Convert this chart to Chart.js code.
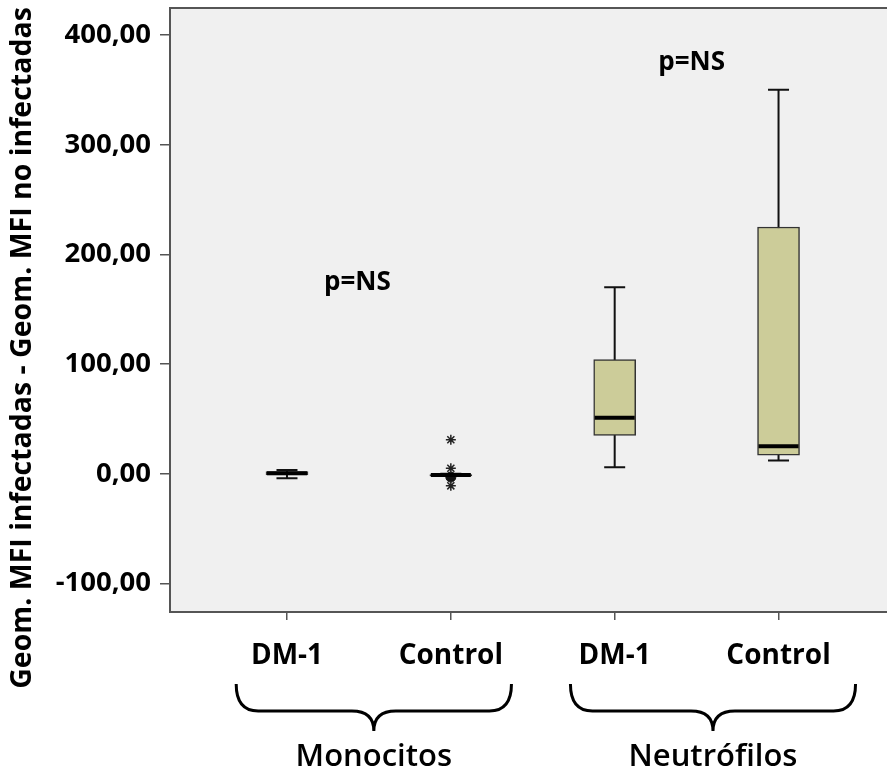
<!DOCTYPE html>
<html>
<head>
<meta charset="utf-8">
<script src="https://cdn.jsdelivr.net/npm/chart.js@4"></script>
<style>
  body { margin: 0; background: #fff; }
  canvas { display: block; }
</style>
</head>
<body>
<canvas id="boxChart" width="887" height="773"></canvas>
<script>
// categories along the x axis (position 1..4)
const categories = ["DM-1", "Control", "DM-1", "Control"];
const catPositions = [1, 2, 3, 4];

// box statistics per category
const whiskerLow = [-4, -1, 6, 12];
const q1 = [-1, -2, 35, 17];
const median = [0.5, -1, 51, 25];
const q3 = [2, 0, 104, 225];
const whiskerHigh = [3.5, 0, 170, 350];

// extreme values shown as stars / circles (Monocitos Control)
const starX = [2, 2, 2];
const starY = [31, 5, -11];
const circleX = [2];
const circleY = [-3];

const yTicks = [-100, 0, 100, 200, 300, 400];

// group braces under the axis
const groupNames = ["Monocitos", "Neutrófilos"];
const groupCenters = [1.53, 3.6];
const groupHalfWidths = [0.84, 0.87];

// p-value notes
const noteText = ["p=NS", "p=NS"];
const noteX = [1.43, 3.47];
const noteY = [174, 375];

const FONT = "'Open Sans', sans-serif";
const AXIS = "#555";

const boxPlugin = {
  id: "boxParts",
  beforeDraw(chart) {
    const { ctx, chartArea: a } = chart;
    ctx.save();
    ctx.fillStyle = "#f0f0f0";
    ctx.fillRect(a.left, a.top, a.right - a.left, a.bottom - a.top);
    ctx.restore();
  },
  beforeDatasetsDraw(chart) {
    const { ctx, scales: { x, y } } = chart;
    ctx.save();
    ctx.strokeStyle = "#111";
    ctx.lineWidth = 2;
    catPositions.forEach((p, i) => {
      const px = x.getPixelForValue(p);
      const lo = y.getPixelForValue(whiskerLow[i]);
      const hi = y.getPixelForValue(whiskerHigh[i]);
      ctx.beginPath();
      ctx.moveTo(px, lo); ctx.lineTo(px, hi);
      ctx.moveTo(px - 10.5, lo); ctx.lineTo(px + 10.5, lo);
      ctx.moveTo(px - 10.5, hi); ctx.lineTo(px + 10.5, hi);
      ctx.stroke();
    });
    ctx.restore();
  },
  afterDatasetsDraw(chart) {
    const { ctx, scales: { x, y } } = chart;
    ctx.save();
    ctx.strokeStyle = "#000";
    ctx.lineWidth = 4;
    catPositions.forEach((p, i) => {
      const px = x.getPixelForValue(p);
      const m = y.getPixelForValue(median[i]);
      ctx.beginPath();
      ctx.moveTo(px - 20, m); ctx.lineTo(px + 20, m);
      ctx.stroke();
    });
    ctx.restore();
  },
  afterDraw(chart) {
    const { ctx, chartArea: a, scales: { x, y } } = chart;
    ctx.save();
    // frame
    ctx.strokeStyle = AXIS;
    ctx.lineWidth = 2;
    ctx.strokeRect(a.left, a.top, a.right - a.left + 2, a.bottom - a.top);

    // p=NS notes
    ctx.fillStyle = "#000";
    ctx.font = "bold 26px " + FONT;
    ctx.textAlign = "center";
    ctx.textBaseline = "middle";
    noteText.forEach((t, i) => {
      ctx.fillText(t, x.getPixelForValue(noteX[i]), y.getPixelForValue(noteY[i]));
    });

    // y title
    ctx.save();
    ctx.translate(23, 348);
    ctx.rotate(-Math.PI / 2);
    ctx.font = "bold 28.5px " + FONT;
    ctx.fillText("Geom. MFI infectadas - Geom. MFI no infectadas", 0, 0);
    ctx.restore();

    // braces and group names
    ctx.strokeStyle = "#000";
    ctx.lineWidth = 3;
    const top = 684, mid = 711, tip = 731, r = 22;
    groupNames.forEach((name, i) => {
      const xc = x.getPixelForValue(groupCenters[i]);
      const x0 = x.getPixelForValue(groupCenters[i] - groupHalfWidths[i]);
      const x1 = x.getPixelForValue(groupCenters[i] + groupHalfWidths[i]);
      ctx.beginPath();
      ctx.moveTo(x0, top);
      ctx.quadraticCurveTo(x0, mid, x0 + r, mid);
      ctx.lineTo(xc - r, mid);
      ctx.quadraticCurveTo(xc, mid, xc, tip);
      ctx.quadraticCurveTo(xc, mid, xc + r, mid);
      ctx.lineTo(x1 - r, mid);
      ctx.quadraticCurveTo(x1, mid, x1, top);
      ctx.stroke();
      ctx.font = "600 31px " + FONT;
      ctx.fillText(name, xc, 757);
    });
    ctx.restore();
  }
};

new Chart(document.getElementById("boxChart"), {
  type: "bar",
  data: {
    datasets: [
      {
        label: "box",
        data: catPositions.map((p, i) => ({ x: p, y: [q1[i], q3[i]] })),
        backgroundColor: "#cccc99",
        borderColor: "#333",
        borderWidth: 1.5,
        borderSkipped: false,
        barThickness: 42
      },
      {
        type: "scatter",
        label: "extremes",
        data: starX.map((v, i) => ({ x: v, y: starY[i] })),
        pointStyle: "star",
        radius: 5,
        borderColor: "#222",
        borderWidth: 1.5
      },
      {
        type: "scatter",
        label: "outliers",
        data: circleX.map((v, i) => ({ x: v, y: circleY[i] })),
        pointStyle: "circle",
        radius: 5,
        backgroundColor: "#111",
        borderColor: "#111"
      }
    ]
  },
  options: {
    responsive: false,
    animation: false,
    layout: { autoPadding: false, padding: { top: 8, right: 0, bottom: 0, left: 0 } },
    plugins: { legend: { display: false }, tooltip: { enabled: false } },
    scales: {
      x: {
        type: "linear",
        offset: false,
        min: 0.286,
        max: 4.662,
        afterBuildTicks: s => { s.ticks = catPositions.map(v => ({ value: v })); },
        afterFit: s => { s.height = 161; s.paddingLeft = 0; s.paddingRight = 0; },
        ticks: {
          callback: (v) => categories[catPositions.indexOf(v)],
          font: { family: FONT, size: 28, weight: "bold" },
          color: "#000",
          padding: 19,
          maxRotation: 0
        },
        grid: { offset: false, drawOnChartArea: false, drawTicks: true, tickLength: 8, color: AXIS, lineWidth: 1.5 },
        border: { display: true, color: AXIS, width: 2 }
      },
      y: {
        min: -126,
        max: 424.6,
        afterBuildTicks: s => { s.ticks = yTicks.map(v => ({ value: v })); },
        afterFit: s => { s.width = 170; s.paddingTop = 0; s.paddingBottom = 0; },
        ticks: {
          callback: v => v.toFixed(2).replace(".", ","),
          font: { family: FONT, size: 27.5, weight: "bold" },
          color: "#000",
          padding: 9
        },
        grid: { drawOnChartArea: false, drawTicks: true, tickLength: 10, color: AXIS, lineWidth: 1.5 },
        border: { display: true, color: AXIS, width: 2 }
      }
    }
  },
  plugins: [boxPlugin]
});
</script>
</body>
</html>
